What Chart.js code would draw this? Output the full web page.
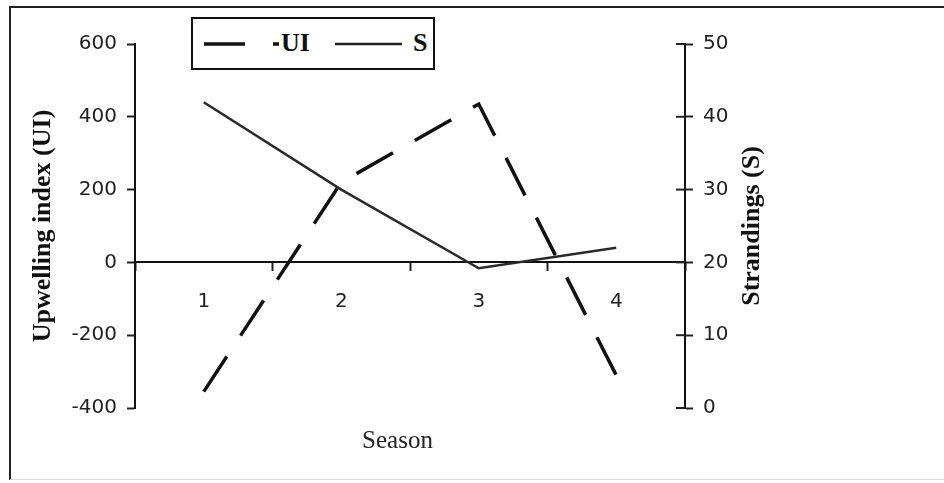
<!DOCTYPE html>
<html>
<head>
<meta charset="utf-8">
<script src="https://cdn.jsdelivr.net/npm/chart.js@4"></script>
<style>
  html, body { margin: 0; padding: 0; background: #fff; }
  #wrap { position: relative; width: 944px; height: 483px; }
  #frame {
    position: absolute; left: 9px; top: 6px; width: 945px; height: 471px;
    border-left: 2px solid #222; border-top: 2px solid #222; border-bottom: 1px solid #ddd;
  }
  #legend {
    position: absolute; left: 191px; top: 17px; width: 240px; height: 49px;
    border: 2px solid #111; background: #fff;
    font-family: "Liberation Serif", serif; font-weight: bold; font-size: 26px; color: #111;
  }
  #legend svg { position: absolute; left: 0; top: 0; }
  #legend span { position: absolute; top: 9px; line-height: 30px; }
</style>
</head>
<body>
<div id="wrap">
  <div id="frame"></div>
  <canvas id="chart" width="944" height="483"></canvas>
  <div id="legend">
    <svg width="240" height="49">
      <line x1="11" y1="25" x2="86" y2="25" stroke="#111" stroke-width="3.5" stroke-dasharray="41 28"></line>
      <line x1="142" y1="25" x2="209" y2="25" stroke="#222" stroke-width="2.5"></line>
    </svg>
    <span style="left:88px">UI</span>
    <span style="left:220px">S</span>
  </div>
</div>
<script>
const seasons = ['1', '2', '3', '4']
const upwelling = [-355, 220, 435, -310]
const strandings = [42, 30, 19.2, 22]

const tickFont = { family: 'DejaVu Sans', size: 20 }
const titleFont = { family: 'Liberation Serif', size: 26, weight: 'bold' }
const rightTitle = 'Strandings (S)'

// right axis: ticks cross the axis line, and the title reads bottom-to-top
const rightAxisExtras = {
  id: 'rightAxisExtras',
  afterDraw(chart) {
    const s = chart.scales.y1
    const ctx = chart.ctx
    ctx.save()
    ctx.strokeStyle = '#222'
    ctx.lineWidth = 2
    s.ticks.forEach(t => {
      const y = s.getPixelForValue(t.value)
      ctx.beginPath()
      ctx.moveTo(s.left - 9, y)
      ctx.lineTo(s.left, y)
      ctx.stroke()
    })
    ctx.translate(s.right - 23, (chart.chartArea.top + chart.chartArea.bottom) / 2)
    ctx.rotate(-Math.PI / 2)
    ctx.font = 'bold 26px "Liberation Serif"'
    ctx.fillStyle = '#111'
    ctx.textAlign = 'center'
    ctx.textBaseline = 'middle'
    ctx.fillText(rightTitle, 0, 0)
    ctx.restore()
  }
}

new Chart(document.getElementById('chart'), {
  type: 'line',
  data: {
    labels: seasons,
    datasets: [{
      label: 'UI',
      data: upwelling,
      yAxisID: 'y',
      borderColor: '#111',
      borderWidth: 3.5,
      borderDash: [42, 25],
      pointRadius: 0,
      tension: 0
    }, {
      label: 'S',
      data: strandings,
      yAxisID: 'y1',
      borderColor: '#2a2a2a',
      borderWidth: 2.5,
      pointRadius: 0,
      tension: 0
    }]
  },
  options: {
    responsive: false,
    animation: false,
    layout: { padding: { left: 20, right: 169, top: 44, bottom: 20 } },
    plugins: {
      legend: { display: false },
      tooltip: { enabled: false },
      title: {
        display: true,
        position: 'bottom',
        text: 'Season',
        color: '#222',
        font: { family: 'Liberation Serif', size: 25, weight: 'normal' },
        padding: { top: 18, bottom: 7 }
      }
    },
    scales: {
      x: {
        type: 'category',
        position: { y: 0 },
        offset: true,
        grid: { display: true, drawOnChartArea: false, offset: true, tickLength: 8, tickColor: '#222', tickWidth: 2 },
        border: { display: true, color: '#111', width: 2 },
        ticks: { color: '#222', font: tickFont, padding: 19, maxRotation: 0 }
      },
      y: {
        position: 'left',
        min: -400,
        max: 600,
        afterFit(s) { s.width = 115 },
        grid: { drawOnChartArea: false, tickLength: 8, tickColor: '#222', tickWidth: 2 },
        border: { display: true, color: '#111', width: 2 },
        ticks: { stepSize: 200, color: '#222', font: tickFont, padding: 10 },
        title: { display: true, text: 'Upwelling index (UI)', color: '#111', font: titleFont, padding: { top: 8, bottom: 0 } }
      },
      y1: {
        position: 'right',
        min: 0,
        max: 50,
        afterFit(s) { s.width = 90 },
        grid: { drawOnChartArea: false, tickLength: 8, tickColor: '#222', tickWidth: 2 },
        border: { display: true, color: '#111', width: 2 },
        ticks: { stepSize: 10, color: '#222', font: tickFont, padding: 10 },
        title: { display: false }
      }
    }
  },
  plugins: [rightAxisExtras]
})
</script>
</body>
</html>
